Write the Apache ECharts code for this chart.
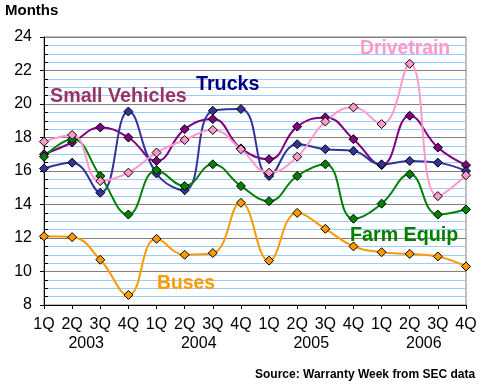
<!DOCTYPE html>
<html>
<head>
<meta charset="utf-8">
<script src="https://cdn.jsdelivr.net/npm/echarts@6/dist/echarts.min.js"></script>
<style>
html,body{margin:0;padding:0;background:#fff;}
#chart{width:480px;height:386px;}
</style>
</head>
<body>
<div id="chart"></div>
<script>
var quarters = ['1Q','2Q','3Q','4Q','1Q','2Q','3Q','4Q','1Q','2Q','3Q','4Q','1Q','2Q','3Q','4Q'];
var years = ['2003','2004','2005','2006'];
var smallVehicles = [17.0, 17.7, 18.6, 18.0, 16.6, 18.5, 19.1, 17.35, 16.7, 18.65, 19.2, 17.9, 16.35, 19.3, 17.4, 16.35];
var trucks = [16.15, 16.5, 14.7, 19.55, 15.85, 14.85, 19.6, 19.7, 15.7, 17.6, 17.3, 17.2, 16.4, 16.6, 16.5, 16.0];
var farmEquip = [16.85, 17.9, 15.7, 13.4, 16.05, 15.1, 16.4, 15.1, 14.2, 15.7, 16.4, 13.15, 14.05, 15.8, 13.4, 13.7];
var buses = [12.1, 12.05, 10.7, 8.6, 11.95, 11.0, 11.1, 14.1, 10.65, 13.5, 12.55, 11.5, 11.15, 11.05, 10.9, 10.3];
var drivetrain = [17.75, 18.15, 15.4, 15.9, 17.1, 17.85, 18.45, 17.3, 15.9, 16.85, 18.95, 19.8, 18.8, 22.4, 14.5, 15.75];
var seriesNames = ['Small Vehicles','Trucks','Farm Equip','Buses','Drivetrain'];
var yTicks = [8, 10, 12, 14, 16, 18, 20, 22, 24];

var FONT = "'Liberation Sans', Arial, sans-serif";
var chart = echarts.init(document.getElementById('chart'), null, {renderer:'canvas'});

function mkSeries(name, data, lineColor, fillColor) {
  return {
    name: name, type: 'line', data: data, smooth: 0.45,
    xAxisIndex: 0, yAxisIndex: 0,
    symbol: 'diamond', symbolSize: 9,
    lineStyle: {color: lineColor, width: 2},
    itemStyle: {color: fillColor, borderColor: '#000', borderWidth: 1},
    emphasis: {disabled: true},
    z: 5
  };
}

var option = {
  animation: false,
  backgroundColor: '#fff',
  grid: {left: 44, right: 14, top: 37, bottom: 81, show: true, borderColor: '#808080', borderWidth: 1, backgroundColor: 'transparent'},
  xAxis: [{
    type: 'category', data: quarters, boundaryGap: false, position: 'bottom',
    axisLine: {lineStyle: {color: '#000', width: 1}},
    axisTick: {show: true, length: 4, lineStyle: {color: '#000'}, interval: 0},
    axisLabel: {interval: 0, color: '#000', fontFamily: FONT, fontSize: 16, margin: 12},
    splitLine: {show: false},
    z: 4
  }, {
    type: 'value', min: 0, max: 15, interval: 0.5, position: 'bottom',
    axisLine: {show: false}, axisTick: {show: false}, splitLine: {show: false},
    axisLabel: {
      color: '#000', fontFamily: FONT, fontSize: 16, margin: 31,
      showMinLabel: true, showMaxLabel: true,
      formatter: function (v) {
        var k = (v - 1.5) / 4;
        if (Math.abs(k - Math.round(k)) < 1e-6 && Math.round(k) >= 0 && Math.round(k) < years.length) return years[Math.round(k)];
        return '';
      }
    }
  }],
  yAxis: [{
    type: 'value', min: yTicks[0], max: yTicks[yTicks.length - 1], interval: yTicks[1] - yTicks[0],
    axisLine: {show: true, lineStyle: {color: '#000', width: 1}},
    axisTick: {show: true, length: 4, inside: false, lineStyle: {color: '#000'}},
    axisLabel: {color: '#000', fontFamily: FONT, fontSize: 16, margin: 12},
    splitLine: {show: true, lineStyle: {color: '#808080', width: 1}},
    z: 3
  }, {
    type: 'value', min: yTicks[0], max: yTicks[yTicks.length - 1], interval: 0.5, position: 'left',
    axisLine: {show: false},
    axisTick: {show: true, length: 4, inside: true, lineStyle: {color: '#000'}},
    axisLabel: {show: false},
    splitLine: {show: true, lineStyle: {color: '#99CCFF', width: 1}},
    z: 1
  }],
  series: [
    mkSeries(seriesNames[0], smallVehicles, '#800080', '#800080'),
    mkSeries(seriesNames[1], trucks, '#333399', '#333399'),
    mkSeries(seriesNames[2], farmEquip, '#008000', '#008000'),
    mkSeries(seriesNames[3], buses, '#FF9900', '#FF9900'),
    mkSeries(seriesNames[4], drivetrain, '#FF99CC', '#FF99CC')
  ],
  graphic: [
    {type: 'text', x: 5, y: 11, style: {text: 'Months', font: 'bold 15px ' + FONT, fill: '#000', textVerticalAlign: 'middle'}},
    {type: 'text', x: 50, y: 97, z: 10, style: {text: seriesNames[0], font: 'bold 19.7px ' + FONT, fill: '#993366', textVerticalAlign: 'middle'}},
    {type: 'text', x: 196, y: 85, z: 10, style: {text: seriesNames[1], font: 'bold 19.7px ' + FONT, fill: '#000080', textVerticalAlign: 'middle'}},
    {type: 'text', x: 360, y: 49, z: 10, style: {text: seriesNames[4], font: 'bold 19.3px ' + FONT, fill: '#FF99CC', textVerticalAlign: 'middle'}},
    {type: 'text', x: 350, y: 236, z: 10, style: {text: seriesNames[2], font: 'bold 19.7px ' + FONT, fill: '#008000', textVerticalAlign: 'middle'}},
    {type: 'text', x: 157, y: 284, z: 10, style: {text: seriesNames[3], font: 'bold 19.3px ' + FONT, fill: '#FF9900', textVerticalAlign: 'middle'}},
    {type: 'text', x: 255, y: 375, style: {text: 'Source: Warranty Week from SEC data', font: 'bold 12px ' + FONT, fill: '#000', textVerticalAlign: 'middle'}}
  ]
};
chart.setOption(option);
</script>
</body>
</html>
